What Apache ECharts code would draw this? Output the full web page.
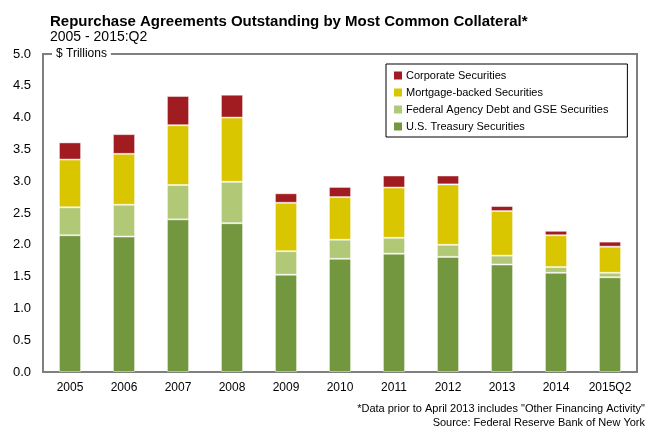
<!DOCTYPE html>
<html><head><meta charset="utf-8">
<script src="https://cdn.jsdelivr.net/npm/echarts@6/dist/echarts.min.js"></script>
<style>html,body{margin:0;padding:0;background:#fff}#c{width:651px;height:432px}</style>
</head><body><div id="c"></div>
<script>
var categories = ['2005','2006','2007','2008','2009','2010','2011','2012','2013','2014','2015Q2'];
var treasury  = [2.15,2.13,2.40,2.34,1.53,1.78,1.86,1.81,1.69,1.56,1.49];
var agency    = [0.44,0.50,0.54,0.65,0.37,0.30,0.25,0.19,0.14,0.09,0.07];
var mbs       = [0.75,0.80,0.94,1.01,0.76,0.67,0.79,0.95,0.70,0.50,0.41];
var corporate = [0.27,0.31,0.46,0.36,0.15,0.16,0.19,0.14,0.08,0.07,0.08];
var yTicks = [0,0.5,1,1.5,2,2.5,3,3.5,4,4.5,5];

var FONT = '"Liberation Sans", Arial, sans-serif';
function ser(name, data, color) {
  return {
    name: name, type: 'bar', stack: 'total', data: data, barWidth: '41%',
    itemStyle: { color: color, borderColor: 'rgba(255,255,255,0.45)', borderWidth: 1 }
  };
}
var chart = echarts.init(document.getElementById('c'), null, {renderer: 'canvas'});
chart.setOption({
  animation: false,
  backgroundColor: '#fff',
  textStyle: { fontFamily: FONT },
  title: [
    { text: 'Repurchase Agreements Outstanding by Most Common Collateral*', left: 45, top: 9,
      textStyle: { fontFamily: FONT, fontSize: 15, fontWeight: 'bold', color: '#000' } },
    { text: '2005 - 2015:Q2', left: 45, top: 25,
      textStyle: { fontFamily: FONT, fontSize: 14, fontWeight: 'normal', color: '#000' } }
  ],
  grid: { left: 43, right: 14, top: 54, bottom: 60, show: true, borderColor: '#7f7f7f', borderWidth: 2, backgroundColor: 'transparent' },
  legend: {
    left: 386, top: 64, orient: 'vertical', icon: 'rect', itemWidth: 8, itemHeight: 8, itemGap: 6,
    padding: [6, 19, 5, 8], borderColor: '#000', borderWidth: 1,
    data: ['Corporate Securities','Mortgage-backed Securities','Federal Agency Debt and GSE Securities','U.S. Treasury Securities'],
    textStyle: { fontFamily: FONT, fontSize: 11, color: '#000', padding: [0,0,0,-1] },
    itemStyle: { borderWidth: 0 }
  },
  xAxis: {
    type: 'category', data: categories,
    axisLine: { show: false }, axisTick: { show: false },
    axisLabel: { fontFamily: FONT, fontSize: 12, color: '#000', margin: 10, interval: 0 }
  },
  yAxis: {
    type: 'value', min: yTicks[0], max: yTicks[yTicks.length-1], interval: 0.5,
    axisLine: { show: false }, axisTick: { show: false }, splitLine: { show: false },
    axisLabel: { fontFamily: FONT, fontSize: 13, color: '#000', margin: 12, formatter: function(v){ return v.toFixed(1); } }
  },
  graphic: [
    { type: 'text', left: 52, top: 47, style: { text: '$ Trillions', fill: '#000', font: '12px ' + FONT, backgroundColor: '#fff', padding: [1,4,1,4] } },
    { type: 'text', right: 6, top: 403, style: { text: '*Data prior to April 2013 includes "Other Financing Activity"', fill: '#000', font: '11px "Liberation Sans Narrow", ' + FONT, align: 'right' } },
    { type: 'text', right: 6, top: 417, style: { text: 'Source: Federal Reserve Bank of New York', fill: '#000', font: '11px "Liberation Sans Narrow", ' + FONT, align: 'right' } }
  ],
  series: [
    ser('U.S. Treasury Securities', treasury, '#73973e'),
    ser('Federal Agency Debt and GSE Securities', agency, '#b1c877'),
    ser('Mortgage-backed Securities', mbs, '#d9c500'),
    ser('Corporate Securities', corporate, '#a01c21')
  ]
});
</script></body></html>
